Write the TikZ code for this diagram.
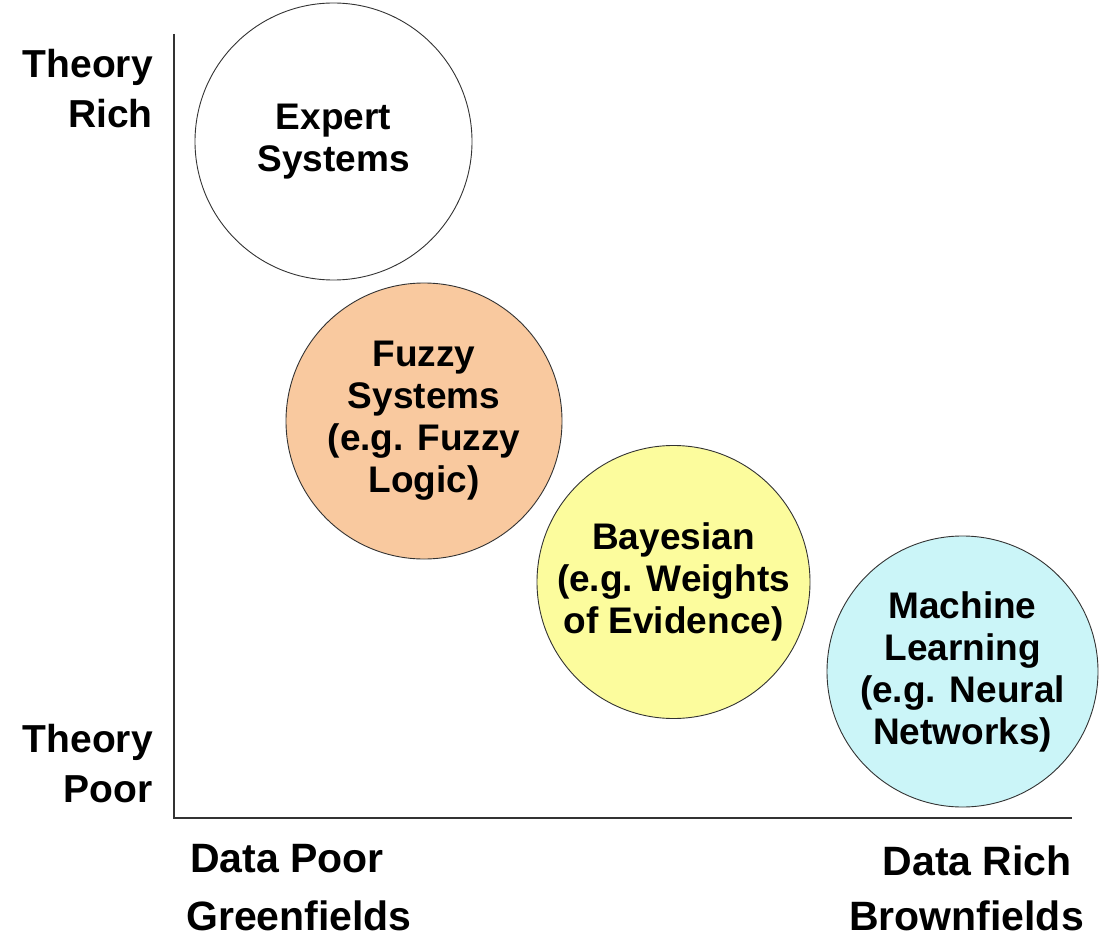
\documentclass[tikz,border=0pt]{standalone}
\usepackage{fontspec}
\setmainfont{Liberation Sans}
\definecolor{peach}{HTML}{F9C99F}
\definecolor{lyellow}{HTML}{FCFC9D}
\definecolor{lcyan}{HTML}{CBF5F8}
\definecolor{edge}{HTML}{333333}
\newcommand\circfont{\fontsize{37}{42}\selectfont\bfseries}
\newcommand\axfont{\fontsize{39}{50}\selectfont\bfseries}
\newcommand\dfont{\fontsize{41}{50}\selectfont\bfseries}
\begin{document}
\begin{tikzpicture}[x=1pt,y=-1pt,
  bubble/.style={circle,draw=edge,line width=0.9pt,inner sep=0pt,align=center,font=\circfont},
  axlabel/.style={inner sep=0pt,font=\axfont},
  dlabel/.style={inner sep=0pt,font=\dfont},
  axis/.style={draw=edge,line width=1.4pt}]
\useasboundingbox[fill=white] (0,0) rectangle (1102,941);
% axes
\coordinate (top) at (174,34);
\coordinate (origin) at (174,818);
\coordinate (right) at (1072,818);
\draw[axis] (top) -- (origin) -- (right);
% bubbles
\node[bubble,fill=white,minimum size=277pt] (expert) at (333.5,141.5) {Expert\\Systems};
\node[bubble,fill=peach,minimum size=276pt] (fuzzy) at (424,421) {Fuzzy\\Systems\\(e.g. Fuzzy\\Logic)};
\node[bubble,fill=lyellow,minimum size=273pt] (bayes) at (673.5,582) {Bayesian\\(e.g. Weights\\of Evidence)};
\node[bubble,fill=lcyan,minimum size=271pt] (ml) at (962.5,671.5) {Machine\\Learning\\(e.g. Neural\\Networks)};
% axis labels
\node[axlabel,anchor=base east] (tr1) at (153,78) {Theory};
\node[axlabel,anchor=base east] (tr2) at (153,128) {Rich};
\node[axlabel,anchor=base east] (tp1) at (153,752) {Theory};
\node[axlabel,anchor=base east] (tp2) at (153,802) {Poor};
\node[dlabel,anchor=base west] (dp) at (190,872) {Data Poor};
\node[dlabel,anchor=base west] (gf) at (186,930) {Greenfields};
\node[dlabel,anchor=base east] (dr) at (1072,875) {Data Rich};
\node[dlabel,anchor=base east] (bf) at (1084,930) {Brownfields};
\end{tikzpicture}
\end{document}
